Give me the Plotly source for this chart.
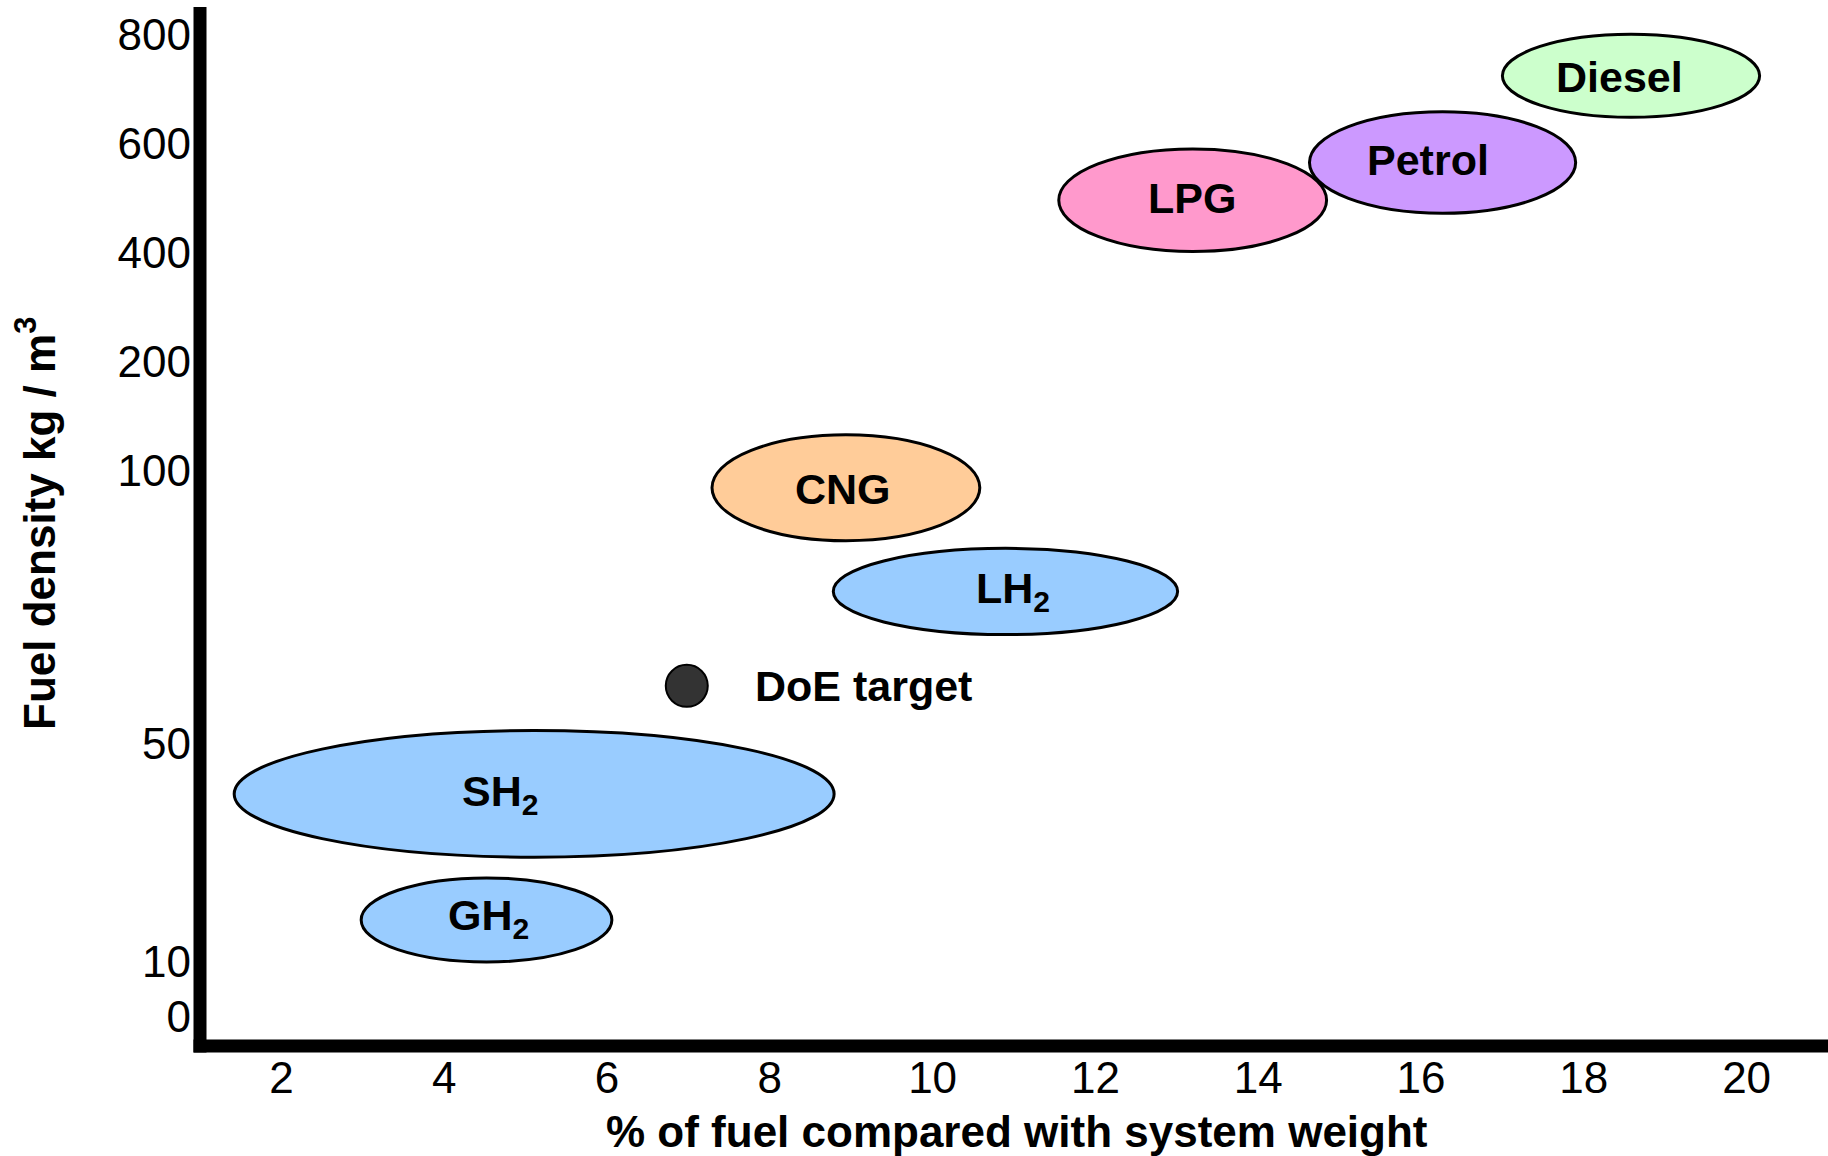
import numpy as np
import plotly.graph_objects as go

# ---- axis definitions (the y axis of the original is piecewise / non-uniform) ----
y_tick_values = [0, 10, 50, 100, 200, 400, 600, 800]
y_tick_positions = [0, 0.5, 2.5, 5, 6, 7, 8, 9]
x_tick_values = [2, 4, 6, 8, 10, 12, 14, 16, 18, 20]

# ---- data ----
fuels = ["Diesel", "Petrol", "LPG", "CNG", "LH2", "SH2", "GH2"]
fuel_labels = ["Diesel", "Petrol", "LPG", "CNG", "LH<sub>2</sub>", "SH<sub>2</sub>", "GH<sub>2</sub>"]
weight_pct_min = [17.0, 14.63, 11.55, 7.29, 8.78, 1.42, 2.98]
weight_pct_max = [20.16, 17.90, 14.84, 10.58, 13.01, 8.79, 6.06]
density_min = [648, 472, 402, 87.2, 70.0, 29.2, 10.0]
density_max = [802, 658, 590, 133, 85.8, 52.4, 25.4]
label_weight_pct = [18.44, 16.09, 13.19, 8.90, 10.99, 4.69, 4.55]
label_density = [722, 570, 500, 96.6, 78, 40.8, 18]
fuel_colors = ["#ccffcc", "#cc99ff", "#ff99cc", "#ffcc99", "#99ccff", "#99ccff", "#99ccff"]

target_name = ["DoE target"]
target_weight_pct = [6.98]
target_density = [60.6]


def ypos(d):
    """map a density value onto the chart's piecewise axis"""
    return np.interp(d, y_tick_values, y_tick_positions)


FONT = "Liberation Sans, Arial, Helvetica, sans-serif"

fig = go.Figure()

shapes = []
for i, f in enumerate(fuels):
    shapes.append(dict(
        type="circle", xref="x", yref="y",
        x0=weight_pct_min[i], x1=weight_pct_max[i],
        y0=float(ypos(density_min[i])), y1=float(ypos(density_max[i])),
        fillcolor=fuel_colors[i], line=dict(color="black", width=3), layer="above",
    ))

# thick black axis lines
shapes.append(dict(type="line", xref="paper", yref="paper",
                   x0=0, x1=0, y0=-6.5 / 1039, y1=1.0,
                   line=dict(color="black", width=13)))
shapes.append(dict(type="line", xref="paper", yref="paper",
                   x0=-6.5 / 1628, x1=1.0, y0=0, y1=0,
                   line=dict(color="black", width=13)))

fig.add_trace(go.Scatter(
    x=target_weight_pct, y=[float(v) for v in ypos(target_density)],
    mode="markers", name=target_name[0],
    marker=dict(size=42, color="#333333", line=dict(color="black", width=2)),
    showlegend=False, hoverinfo="skip",
))

annotations = []
for i, f in enumerate(fuels):
    annotations.append(dict(
        x=label_weight_pct[i], y=float(ypos(label_density[i])), xref="x", yref="y",
        text="<b>" + fuel_labels[i] + "</b>", showarrow=False,
        font=dict(family=FONT, size=43, color="black"),
        xanchor="center", yanchor="middle",
    ))

annotations.append(dict(
    x=target_weight_pct[0], y=float(ypos(target_density[0])), xref="x", yref="y",
    text="<b>" + target_name[0] + "</b>", showarrow=False, xshift=66,
    font=dict(family=FONT, size=43, color="black"),
    xanchor="left", yanchor="middle",
))

annotations.append(dict(
    x=0.502, y=-0.082, xref="paper", yref="paper",
    text="<b>% of fuel compared with system weight</b>", showarrow=False,
    font=dict(family=FONT, size=44, color="black"),
    xanchor="center", yanchor="middle",
))
annotations.append(dict(
    x=-0.101, y=0.503, xref="paper", yref="paper",
    text="<b>Fuel density kg / m<sup>3</sup></b>", showarrow=False, textangle=-90,
    font=dict(family=FONT, size=44, color="black"),
    xanchor="center", yanchor="middle",
))

fig.update_layout(
    width=1828, height=1156,
    margin=dict(l=200, r=0, t=7, b=110, pad=0),
    paper_bgcolor="white", plot_bgcolor="white",
    shapes=shapes, annotations=annotations,
    showlegend=False,
    xaxis=dict(range=[1, 21], tickmode="array", tickvals=x_tick_values,
               ticks="", showgrid=False, zeroline=False, showline=False,
               tickfont=dict(family=FONT, size=44, color="black"),
               ticklabelstandoff=2),
    yaxis=dict(range=[-0.27, 9.25], tickmode="array", tickvals=y_tick_positions,
               ticktext=[str(v) for v in y_tick_values],
               ticks="", showgrid=False, zeroline=False, showline=False,
               tickfont=dict(family=FONT, size=44, color="black"),
               ticklabelstandoff=8),
)

fig.write_html(
    "out.html",
    config={"displayModeBar": False},
    post_script="document.body.style.margin='0';document.body.style.overflow='hidden';",
)
